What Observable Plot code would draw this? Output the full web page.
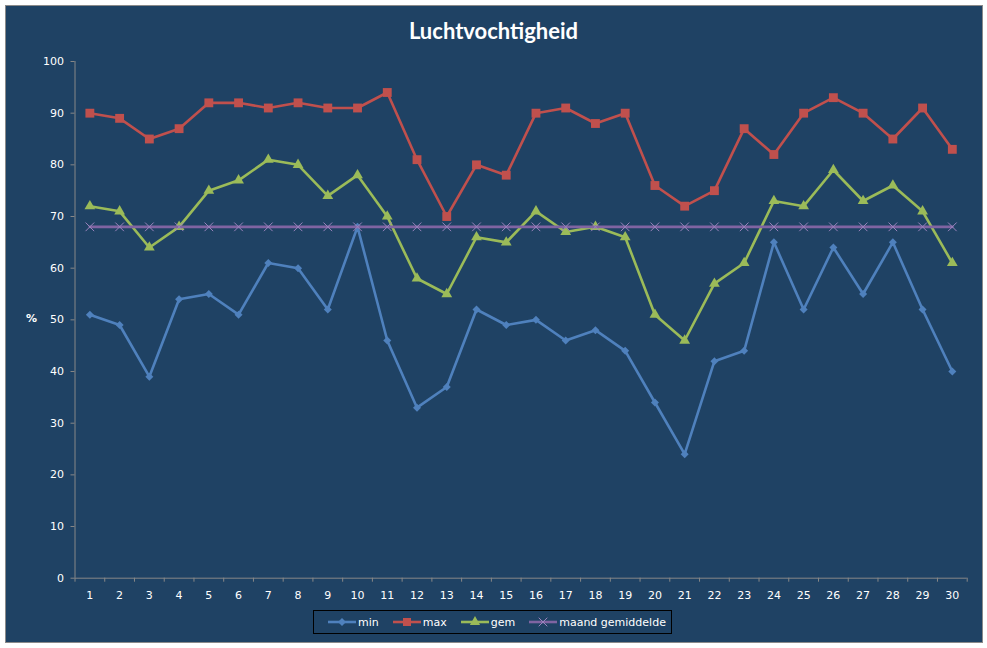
<!DOCTYPE html>
<html>
<head>
<meta charset="utf-8">
<script src="https://cdn.jsdelivr.net/npm/d3@7"></script>
<script src="https://cdn.jsdelivr.net/npm/@observablehq/plot@0.6"></script>
<style>
  html, body { margin: 0; padding: 0; background: #ffffff; width: 987px; height: 648px; overflow: hidden; }
  #frame { position: absolute; left: 5px; top: 5px; width: 976px; height: 636px; border: 1px solid #8a8a8a; background: #1F4264; }
  #title { position: absolute; left: 0; top: 17px; width: 987px; text-align: center; color: #ffffff; font: bold 22px Lato, "Open Sans", sans-serif; }
  #chart { position: absolute; left: 0; top: 45px; }
  #ylabel { position: absolute; left: 26px; top: 312px; color: #ffffff; font: bold 11px "DejaVu Sans", sans-serif; }
  #legend { position: absolute; left: 313px; top: 610px; width: 359px; height: 24px; border: 1px solid #000000; display: flex; flex-wrap: nowrap; align-items: center; font: 11px "DejaVu Sans", sans-serif; color: #ffffff; box-sizing: border-box; padding-left: 14px; white-space: nowrap; }
  #legend .item { display: flex; align-items: center; margin-right: 14px; white-space: nowrap; }
  #legend svg { margin-right: 2px; }
</style>
</head>
<body>
<div id="frame"></div>
<div id="title">Luchtvochtigheid</div>
<div id="chart"></div>
<div id="ylabel">%</div>
<div id="legend"></div>
<script>
const days = [1,2,3,4,5,6,7,8,9,10,11,12,13,14,15,16,17,18,19,20,21,22,23,24,25,26,27,28,29,30];
const minValues = [51,49,39,54,55,51,61,60,52,68,46,33,37,52,49,50,46,48,44,34,24,42,44,65,52,64,55,65,52,40];
const maxValues = [90,89,85,87,92,92,91,92,91,91,94,81,70,80,78,90,91,88,90,76,72,75,87,82,90,93,90,85,91,83];
const gemValues = [72,71,64,68,75,77,81,80,74,78,70,58,55,66,65,71,67,68,66,51,46,57,61,73,72,79,73,76,71,61];
const maandValues = [68,68,68,68,68,68,68,68,68,68,68,68,68,68,68,68,68,68,68,68,68,68,68,68,68,68,68,68,68,68];
const yTicks = [0,10,20,30,40,50,60,70,80,90,100];
const seriesNames = ["min", "max", "gem", "maand gemiddelde"];
const seriesColors = ["#4F81BD", "#C0504D", "#9BBB59", "#8064A2"];

const toRows = (vals) => days.map((d, i) => ({day: d, value: vals[i]}));
const minRows = toRows(minValues);
const maxRows = toRows(maxValues);
const gemRows = toRows(gemValues);
const maandRows = toRows(maandValues);
const boundaries = d3.range(0.5, days.length + 1, 1);

const axisColor = "#878787";
const plot = Plot.plot({
  width: 987,
  height: 560,
  marginTop: 16,
  marginBottom: 27.3,
  marginLeft: 74.5,
  marginRight: 20.3,
  style: {background: "transparent", color: "#ffffff", fontFamily: "'DejaVu Sans', sans-serif", fontSize: "11px", overflow: "visible"},
  x: {type: "linear", domain: [0.5, days.length + 0.5]},
  y: {domain: [0, 100]},
  marks: [
    Plot.axisY({ticks: yTicks, tickSize: 4, tickPadding: 7, stroke: axisColor, fill: "#ffffff", label: null, tickFormat: d => String(d)}),
    Plot.axisX({ticks: boundaries, tickSize: 4, stroke: axisColor, tickFormat: () => "", label: null}),
    Plot.axisX({ticks: days, tickSize: 0, tickPadding: 13, fill: "#ffffff", label: null, tickFormat: d => String(d)}),
    Plot.ruleX([0.5], {stroke: axisColor, strokeWidth: 1}),
    Plot.ruleY([0], {stroke: axisColor, strokeWidth: 1}),
    Plot.line(minRows, {x: "day", y: "value", stroke: seriesColors[0], strokeWidth: 2.6}),
    Plot.dot(minRows, {x: "day", y: "value", symbol: "diamond2", r: 3.6, fill: seriesColors[0]}),
    Plot.line(maxRows, {x: "day", y: "value", stroke: seriesColors[1], strokeWidth: 2.6}),
    Plot.dot(maxRows, {x: "day", y: "value", symbol: "square", r: 5, fill: seriesColors[1]}),
    Plot.line(gemRows, {x: "day", y: "value", stroke: seriesColors[2], strokeWidth: 2.6}),
    Plot.dot(gemRows, {x: "day", y: "value", symbol: "triangle", r: 4, fill: seriesColors[2]}),
    Plot.line(maandRows, {x: "day", y: "value", stroke: seriesColors[3], strokeWidth: 2.6}),
    Plot.dot(maandRows, {x: "day", y: "value", symbol: "times", r: 4, stroke: "#9B84BE", strokeWidth: 1})
  ]
});
document.getElementById("chart").appendChild(plot);

// Legend
const legend = d3.select("#legend");
const symbols = [d3.symbolDiamond2, d3.symbolSquare, d3.symbolTriangle, d3.symbolTimes];
const symbolSizes = [40, 64, 45, 50];
seriesNames.forEach((name, i) => {
  const item = legend.append("div").attr("class", "item");
  const svg = item.append("svg").attr("width", 28).attr("height", 12);
  svg.append("line").attr("x1", 0).attr("x2", 28).attr("y1", 6).attr("y2", 6)
    .attr("stroke", seriesColors[i]).attr("stroke-width", 2.6);
  const path = svg.append("path").attr("transform", "translate(14,6)")
    .attr("d", d3.symbol(symbols[i], symbolSizes[i])());
  if (i === 3) path.attr("fill", "none").attr("stroke", "#9B84BE").attr("stroke-width", 1);
  else path.attr("fill", seriesColors[i]);
  item.append("span").text(name);
});
</script>
</body>
</html>
